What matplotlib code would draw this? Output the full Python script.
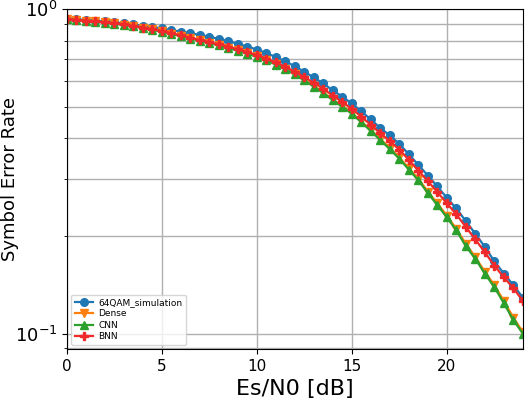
import numpy as np
import matplotlib.pyplot as plt

# Es/N0 grid (dB)
snr_db = np.arange(0, 24.5, 0.5)

ser_sim = [0.935, 0.931, 0.927, 0.922, 0.917, 0.911, 0.904, 0.897, 0.889, 0.881,
           0.872, 0.862, 0.853, 0.843, 0.833, 0.822, 0.810, 0.797, 0.782, 0.767,
           0.751, 0.732, 0.712, 0.690, 0.667, 0.641, 0.616, 0.590, 0.562, 0.537,
           0.512, 0.484, 0.457, 0.430, 0.408, 0.384, 0.357, 0.331, 0.307, 0.284,
           0.262, 0.243, 0.222, 0.203, 0.185, 0.167, 0.153, 0.141, 0.129]

ser_dense = [0.932, 0.927, 0.922, 0.917, 0.911, 0.904, 0.896, 0.887, 0.877, 0.866,
             0.854, 0.841, 0.828, 0.814, 0.801, 0.788, 0.775, 0.761, 0.746, 0.731,
             0.715, 0.697, 0.677, 0.655, 0.632, 0.606, 0.580, 0.554, 0.527, 0.503,
             0.479, 0.451, 0.424, 0.398, 0.373, 0.349, 0.323, 0.300, 0.274, 0.252,
             0.231, 0.210, 0.189, 0.172, 0.155, 0.141, 0.126, 0.112, 0.101]

ser_cnn = [0.930, 0.925, 0.920, 0.915, 0.909, 0.902, 0.894, 0.885, 0.875, 0.864,
           0.852, 0.839, 0.826, 0.812, 0.799, 0.786, 0.773, 0.759, 0.744, 0.729,
           0.713, 0.695, 0.675, 0.653, 0.629, 0.603, 0.577, 0.551, 0.524, 0.500,
           0.476, 0.448, 0.421, 0.395, 0.370, 0.346, 0.320, 0.297, 0.271, 0.249,
           0.228, 0.208, 0.186, 0.170, 0.153, 0.139, 0.124, 0.110, 0.100]

ser_bnn = [0.932, 0.927, 0.922, 0.917, 0.911, 0.905, 0.897, 0.888, 0.878, 0.868,
           0.857, 0.843, 0.830, 0.816, 0.804, 0.791, 0.779, 0.766, 0.752, 0.737,
           0.722, 0.704, 0.685, 0.664, 0.642, 0.617, 0.593, 0.568, 0.541, 0.517,
           0.493, 0.466, 0.440, 0.414, 0.392, 0.369, 0.343, 0.318, 0.295, 0.273,
           0.252, 0.233, 0.213, 0.195, 0.178, 0.162, 0.149, 0.138, 0.126]

fig = plt.figure(figsize=(5.26, 3.99), dpi=100)
ax = fig.add_axes([0.127, 0.125, 0.867, 0.852])

ax.semilogy(snr_db, ser_sim, marker='o', color='#1f77b4', lw=1.6, ms=5.5, label='64QAM_simulation')
ax.semilogy(snr_db, ser_dense, marker='v', color='#ff7f0e', lw=1.6, ms=5.5, label='Dense')
ax.semilogy(snr_db, ser_cnn, marker='^', color='#2ca02c', lw=1.6, ms=5.5, label='CNN')
ax.semilogy(snr_db, ser_bnn, marker='P', color='#f02a2a', lw=1.6, ms=5.5, label='BNN')

ax.set_xlim(0, 24)
ax.set_ylim(0.0895, 1.0)
ax.set_xticks([0, 5, 10, 15, 20])
ax.tick_params(axis='x', which='major', labelsize=11)
ax.tick_params(axis='y', which='major', labelsize=13)
ax.grid(True, which='major', color='#b0b0b0', lw=1)
ax.grid(True, which='minor', axis='y', color='#b0b0b0', lw=1)

ax.set_xlabel('Es/N0 [dB]', fontsize=16)
ax.set_ylabel('Symbol Error Rate', fontsize=13)
ax.yaxis.set_label_coords(-0.104, 0.5)
ax.legend(loc='lower left', fontsize=6.5, handlelength=2.0, borderpad=0.4,
          labelspacing=0.25, handletextpad=0.6)

fig.savefig('out.png', dpi=100)
